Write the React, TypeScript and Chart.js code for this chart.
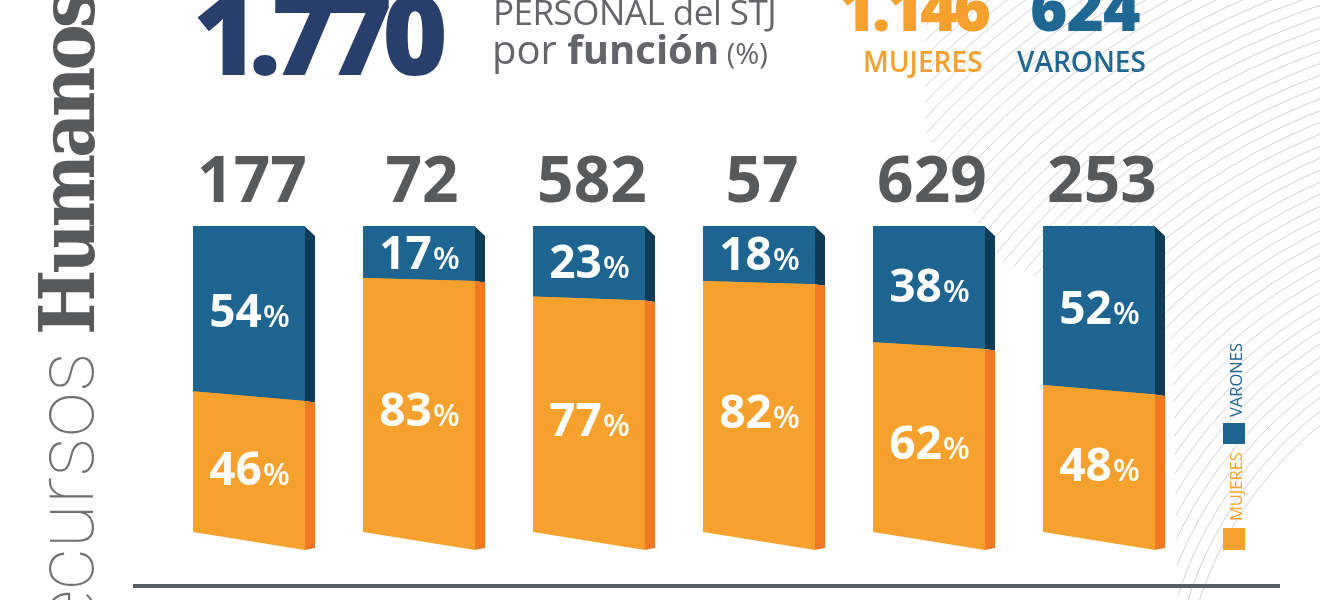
import React, { useEffect, useRef } from "react";
import { Chart, registerables } from "chart.js";

Chart.register(...registerables);

// ---- data ----
const categories = ["Función 1", "Función 2", "Función 3", "Función 4", "Función 5", "Función 6"];
const totals = [177, 72, 582, 57, 629, 253];
const mujeresPct = [46, 83, 77, 82, 62, 48];
const varonesPct = [54, 17, 23, 18, 38, 52];
const seriesNames = ["MUJERES", "VARONES"];
const totalPersonal = "1.770";
const totalMujeres = "1.146";
const totalVarones = "624";

// ---- styles ----
const ORANGE = "#f6a02e";
const ORANGE_SIDE = "#f07a23";
const BLUE = "#1d6590";
const BLUE_SIDE = "#0e3b55";
const GRAY = "#58595b";
const NAVY = "#283f6c";
const SLANT = 18;
const DEPTH = 10;

const backdrop = {
  id: "backdrop",
  beforeDraw(chart: any) {
    const ctx = chart.ctx as CanvasRenderingContext2D;
    ctx.save();
    ctx.beginPath();
    ctx.moveTo(925, 0);
    ctx.lineTo(1320, 0);
    ctx.lineTo(1320, 600);
    ctx.lineTo(1178, 600);
    ctx.lineTo(1172, 340);
    ctx.lineTo(1000, 260);
    ctx.lineTo(925, 130);
    ctx.closePath();
    ctx.clip();
    ctx.strokeStyle = "rgba(120,120,120,0.5)";
    ctx.lineWidth = 0.7;
    for (let r = 380; r < 990; r += 11) {
      ctx.beginPath();
      ctx.arc(1560, 720, r, 0, Math.PI * 2);
      ctx.stroke();
    }
    ctx.restore();
  },
};

const bar3d = {
  id: "bar3d",
  afterDatasetsDraw(chart: any) {
    const ctx = chart.ctx as CanvasRenderingContext2D;
    const metaM = chart.getDatasetMeta(0);
    const metaV = chart.getDatasetMeta(1);
    const n = metaM.data.length;
    for (let i = 0; i < n; i++) {
      const m: any = metaM.data[i];
      const v: any = metaV.data[i];
      const w = m.width;
      const L = m.x - w / 2;
      const R = m.x + w / 2;
      const top = Math.min(v.y, v.base, m.y, m.base);
      const bot = Math.max(m.base, m.y, v.base, v.y);
      const s = (y: number) => (SLANT * (y - top)) / (bot - top);
      const sideY = (y: number) => y + s(y) + (Math.abs(y - top) < 0.5 ? DEPTH : Math.abs(y - bot) < 0.5 ? -2 : 1.5);
      const segs = [
        { y1: v.y, y2: v.base, front: BLUE, side: BLUE_SIDE, val: varonesPct[i] },
        { y1: m.y, y2: m.base, front: ORANGE, side: ORANGE_SIDE, val: mujeresPct[i] },
      ];
      for (const g of segs) {
        ctx.beginPath();
        ctx.moveTo(R - 0.5, g.y1 + s(g.y1));
        ctx.lineTo(R + DEPTH, sideY(g.y1));
        ctx.lineTo(R + DEPTH, sideY(g.y2));
        ctx.lineTo(R - 0.5, g.y2 + s(g.y2));
        ctx.closePath();
        ctx.fillStyle = g.side;
        ctx.fill();
        ctx.beginPath();
        ctx.moveTo(L, g.y1);
        ctx.lineTo(R, g.y1 + s(g.y1));
        ctx.lineTo(R, g.y2 + s(g.y2));
        ctx.lineTo(L, g.y2);
        ctx.closePath();
        ctx.fillStyle = g.front;
        ctx.fill();
      }
      for (const g of segs) {
        const mid = (g.y1 + g.y2) / 2;
        const cy = mid + s(mid) / 2;
        const num = String(g.val);
        ctx.font = "700 46px 'Open Sans'";
        const wNum = ctx.measureText(num).width;
        ctx.font = "600 31px 'Open Sans'";
        const wPct = ctx.measureText("%").width;
        const x0 = m.x - (wNum + wPct) / 2;
        const base = cy + 16;
        ctx.fillStyle = "#ffffff";
        ctx.textAlign = "left";
        ctx.textBaseline = "alphabetic";
        ctx.font = "700 46px 'Open Sans'";
        ctx.fillText(num, x0, base);
        ctx.font = "600 31px 'Open Sans'";
        ctx.fillText("%", x0 + wNum + 1, base);
      }
      ctx.font = "700 64px 'Open Sans'";
      ctx.fillStyle = GRAY;
      ctx.textAlign = "center";
      ctx.textBaseline = "alphabetic";
      ctx.fillText(String(totals[i]), m.x + 3, top - 24);
    }
  },
};

export default function App() {
  const ref = useRef<HTMLCanvasElement | null>(null);

  useEffect(() => {
    document.body.style.margin = "0";
    if (!ref.current) return;
    const chart = new Chart(ref.current, {
      type: "bar",
      data: {
        labels: categories,
        datasets: [
          {
            label: seriesNames[0],
            data: mujeresPct,
            backgroundColor: ORANGE,
            borderWidth: 0,
            barPercentage: 1,
            categoryPercentage: 112 / 170,
          },
          {
            label: seriesNames[1],
            data: varonesPct,
            backgroundColor: BLUE,
            borderWidth: 0,
            barPercentage: 1,
            categoryPercentage: 112 / 170,
          },
        ],
      },
      options: {
        responsive: false,
        animation: false,
        devicePixelRatio: 1,
        layout: { padding: { left: 164, right: 136, top: 226, bottom: 68 } },
        plugins: {
          legend: { display: false },
          tooltip: { enabled: false },
          title: { display: false },
        },
        scales: {
          x: { stacked: true, display: false },
          y: { stacked: true, display: false, min: 0, max: 100 },
        },
      },
      plugins: [backdrop, bar3d],
    });
    return () => chart.destroy();
  }, []);

  const abs = (s: React.CSSProperties): React.CSSProperties => ({
    position: "absolute",
    whiteSpace: "nowrap",
    margin: 0,
    ...s,
  });

  return (
    <div
      style={{
        position: "fixed",
        left: 0,
        top: 0,
        width: 1320,
        height: 600,
        overflow: "hidden",
        background: "#ffffff",
        fontFamily: "'Open Sans', sans-serif",
      }}
    >
      <canvas ref={ref} width={1320} height={600} style={{ position: "absolute", left: 0, top: 0, display: "block" }} />

      {/* vertical side title */}
      <div
        style={abs({
          left: 25,
          top: 352 + 600,
          width: 600,
          textAlign: "right",
          transformOrigin: "0 0",
          transform: "rotate(-90deg)",
          fontFamily: "Roboto",
          fontWeight: 100,
          fontSize: 81,
          lineHeight: "81px",
          color: "#6f7174",
        })}
      >
        Recursos
      </div>
      <div
        style={abs({
          left: 29,
          top: 335,
          transformOrigin: "0 0",
          transform: "rotate(-90deg)",
          fontFamily: "'DejaVu Serif Condensed', 'DejaVu Serif'",
          fontWeight: 700,
          fontSize: 77,
          lineHeight: "77px",
          letterSpacing: -4,
          color: GRAY,
        })}
      >
        Humanos
      </div>

      {/* header */}
      <div
        style={abs({
          left: 193,
          top: 75 - 0.888 * 112,
          fontSize: 112,
          lineHeight: "112px",
          fontWeight: 800,
          letterSpacing: -10,
          color: NAVY,
        })}
      >
        {totalPersonal}
      </div>
      <div
        style={abs({
          left: 493,
          top: 25 - 0.888 * 35,
          fontSize: 35,
          lineHeight: "35px",
          fontWeight: 500,
          letterSpacing: -0.5,
          color: "#636568",
        })}
      >
        PERSONAL del STJ
      </div>
      <div
        style={abs({
          left: 492,
          top: 65 - 0.888 * 40,
          fontSize: 40,
          lineHeight: "40px",
          fontWeight: 500,
          color: "#636568",
        })}
      >
        por <span style={{ fontWeight: 700 }}>función</span>
        <span style={{ fontSize: 29, fontWeight: 400 }}> (%)</span>
      </div>

      <div
        style={abs({
          right: 1320 - 987,
          top: 32 - 0.888 * 64,
          fontSize: 64,
          lineHeight: "64px",
          fontWeight: 800,
          letterSpacing: -4,
          color: ORANGE,
        })}
      >
        {totalMujeres}
      </div>
      <div
        style={abs({
          left: 1030,
          top: 32 - 0.888 * 64,
          fontSize: 64,
          lineHeight: "64px",
          fontWeight: 800,
          letterSpacing: -1,
          color: "#1f6893",
        })}
      >
        {totalVarones}
      </div>
      <div
        style={abs({
          left: 863,
          top: 72 - 0.888 * 28,
          fontSize: 28,
          lineHeight: "28px",
          fontWeight: 600,
          color: ORANGE,
        })}
      >
        {seriesNames[0]}
      </div>
      <div
        style={abs({
          left: 1017,
          top: 72 - 0.888 * 28,
          fontSize: 28,
          lineHeight: "28px",
          fontWeight: 600,
          color: "#1f6893",
        })}
      >
        {seriesNames[1]}
      </div>

      {/* legend (vertical) */}
      <div style={abs({ left: 1223, top: 528, width: 22, height: 22, background: ORANGE })} />
      <div style={abs({ left: 1223, top: 423, width: 22, height: 21, background: BLUE })} />
      <div
        style={abs({
          left: 1228,
          top: 521,
          transformOrigin: "0 0",
          transform: "rotate(-90deg)",
          fontSize: 16.5,
          lineHeight: "16.5px",
          color: ORANGE,
        })}
      >
        {seriesNames[0]}
      </div>
      <div
        style={abs({
          left: 1228,
          top: 417,
          transformOrigin: "0 0",
          transform: "rotate(-90deg)",
          fontSize: 16.5,
          lineHeight: "16.5px",
          color: BLUE,
        })}
      >
        {seriesNames[1]}
      </div>

      {/* baseline rule */}
      <div style={abs({ left: 133, top: 584, width: 1147, height: 4, background: "#5b5e62" })} />
    </div>
  );
}
